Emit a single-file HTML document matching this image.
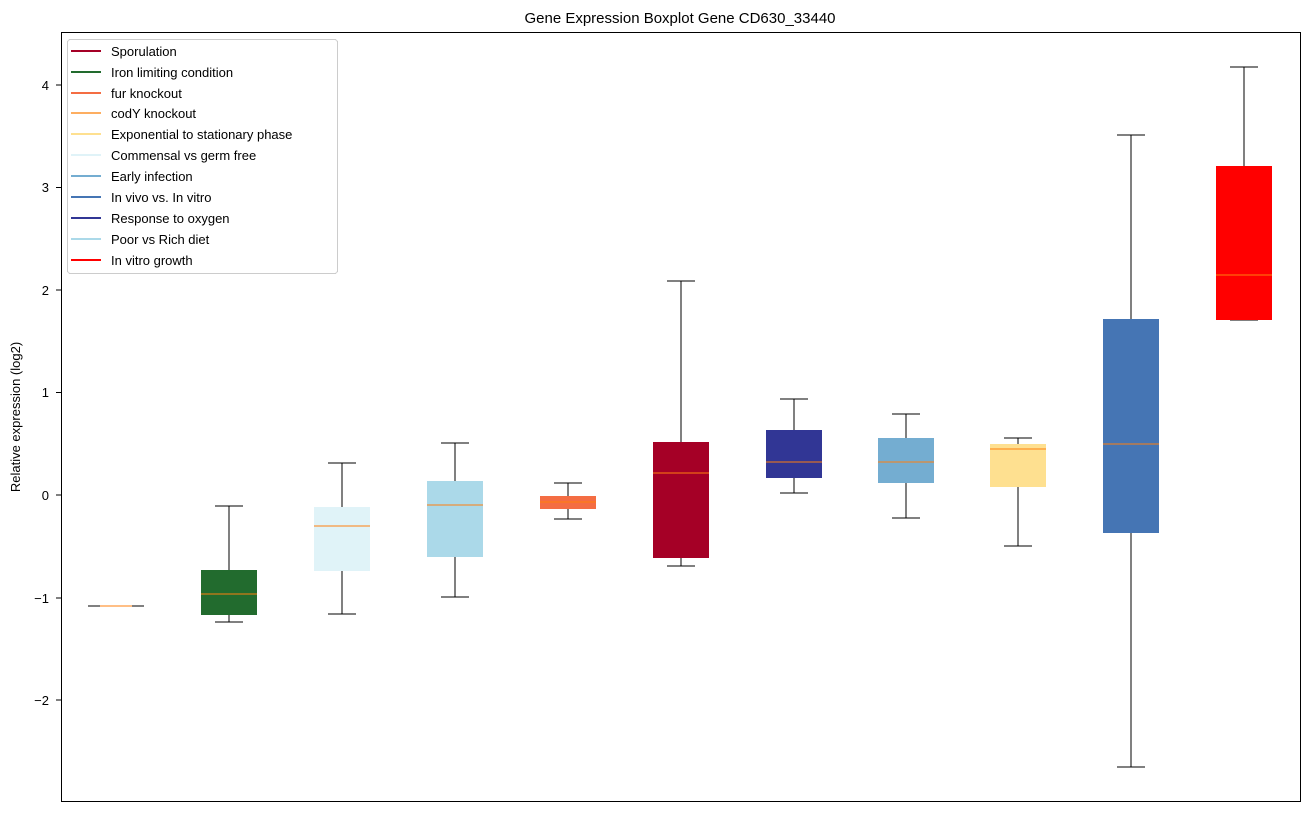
<!DOCTYPE html><html><head><style>body{margin:0;background:#fff}</style></head><body>
<svg width="1309" height="812" xmlns="http://www.w3.org/2000/svg" font-family="Liberation Sans, DejaVu Sans, sans-serif" shape-rendering="crispEdges">
<rect width="1309" height="812" fill="#fff"/>
<text x="680" y="23" font-size="15" text-anchor="middle">Gene Expression Boxplot Gene CD630_33440</text>
<g font-size="13" text-anchor="end" stroke="none">
<text x="49" y="90">4</text><text x="49" y="192">3</text><text x="49" y="295">2</text><text x="49" y="397">1</text><text x="49" y="500">0</text><text x="49" y="603">−1</text><text x="49" y="705">−2</text>
</g>
<g stroke="#000"><line x1="56" y1="85" x2="61" y2="85"/><line x1="56" y1="187.5" x2="61" y2="187.5"/><line x1="56" y1="290" x2="61" y2="290"/><line x1="56" y1="392.5" x2="61" y2="392.5"/><line x1="56" y1="495" x2="61" y2="495"/><line x1="56" y1="598" x2="61" y2="598"/><line x1="56" y1="700" x2="61" y2="700"/></g>
<text transform="translate(20,417) rotate(-90)" font-size="13" text-anchor="middle">Relative expression (log2)</text>
<g stroke="#000" stroke-width="1">
<line x1="88" y1="606" x2="144" y2="606"/>
<line x1="229" y1="506" x2="229" y2="622"/><line x1="215" y1="506" x2="243" y2="506"/><line x1="215" y1="622" x2="243" y2="622"/>
<line x1="342" y1="463" x2="342" y2="614"/><line x1="328" y1="463" x2="356" y2="463"/><line x1="328" y1="614" x2="356" y2="614"/>
<line x1="455" y1="443" x2="455" y2="597"/><line x1="441" y1="443" x2="469" y2="443"/><line x1="441" y1="597" x2="469" y2="597"/>
<line x1="568" y1="483" x2="568" y2="519"/><line x1="554" y1="483" x2="582" y2="483"/><line x1="554" y1="519" x2="582" y2="519"/>
<line x1="681" y1="281" x2="681" y2="566"/><line x1="667" y1="281" x2="695" y2="281"/><line x1="667" y1="566" x2="695" y2="566"/>
<line x1="794" y1="399" x2="794" y2="493"/><line x1="780" y1="399" x2="808" y2="399"/><line x1="780" y1="493" x2="808" y2="493"/>
<line x1="906" y1="414" x2="906" y2="518"/><line x1="892" y1="414" x2="920" y2="414"/><line x1="892" y1="518" x2="920" y2="518"/>
<line x1="1018" y1="438" x2="1018" y2="546"/><line x1="1004" y1="438" x2="1032" y2="438"/><line x1="1004" y1="546" x2="1032" y2="546"/>
<line x1="1131" y1="135" x2="1131" y2="767"/><line x1="1117" y1="135" x2="1145" y2="135"/><line x1="1117" y1="767" x2="1145" y2="767"/>
<line x1="1244" y1="67" x2="1244" y2="320"/><line x1="1230" y1="67" x2="1258" y2="67"/><line x1="1230" y1="320" x2="1258" y2="320"/>
</g>
<rect x="201" y="570" width="56" height="45" fill="#226b2e"/>
<rect x="314" y="507" width="56" height="64" fill="#e0f3f8"/>
<rect x="427" y="481" width="56" height="76" fill="#abd9e9"/>
<rect x="540" y="496" width="56" height="13" fill="#f46d43"/>
<rect x="653" y="442" width="56" height="116" fill="#a50026"/>
<rect x="766" y="430" width="56" height="48" fill="#313695"/>
<rect x="878" y="438" width="56" height="45" fill="#74add1"/>
<rect x="990" y="444" width="56" height="43" fill="#fee090"/>
<rect x="1103" y="319" width="56" height="214" fill="#4575b4"/>
<rect x="1216" y="166" width="56" height="154" fill="#ff0000"/>
<g stroke="#ff7f0e" stroke-width="1">
<line x1="100" y1="606" x2="132" y2="606"/><line x1="201" y1="594" x2="257" y2="594"/><line x1="314" y1="526" x2="370" y2="526"/><line x1="427" y1="505" x2="483" y2="505"/><line x1="540" y1="502" x2="596" y2="502"/><line x1="653" y1="473" x2="709" y2="473"/><line x1="766" y1="462" x2="822" y2="462"/><line x1="878" y1="462" x2="934" y2="462"/><line x1="990" y1="449" x2="1046" y2="449"/><line x1="1103" y1="444" x2="1159" y2="444"/><line x1="1216" y1="275" x2="1272" y2="275"/>
</g>
<rect x="61.5" y="32.5" width="1239" height="769" fill="none" stroke="#000"/>
<rect x="67.5" y="39.5" width="270" height="234" rx="3" fill="#fff" fill-opacity="0.8" stroke="#ccc"/>
<g stroke-width="2">
<line x1="71" y1="51" x2="101" y2="51" stroke="#a50026"/>
<line x1="71" y1="72" x2="101" y2="72" stroke="#226b2e"/>
<line x1="71" y1="93" x2="101" y2="93" stroke="#f46d43"/>
<line x1="71" y1="113" x2="101" y2="113" stroke="#fdae61"/>
<line x1="71" y1="134" x2="101" y2="134" stroke="#fee090"/>
<line x1="71" y1="155" x2="101" y2="155" stroke="#e0f3f8"/>
<line x1="71" y1="176" x2="101" y2="176" stroke="#74add1"/>
<line x1="71" y1="197" x2="101" y2="197" stroke="#4575b4"/>
<line x1="71" y1="218" x2="101" y2="218" stroke="#313695"/>
<line x1="71" y1="239" x2="101" y2="239" stroke="#abd9e9"/>
<line x1="71" y1="260" x2="101" y2="260" stroke="#ff0000"/>
</g>
<g font-size="13">
<text x="111" y="56">Sporulation</text><text x="111" y="77">Iron limiting condition</text><text x="111" y="98">fur knockout</text><text x="111" y="118">codY knockout</text><text x="111" y="139">Exponential to stationary phase</text><text x="111" y="160">Commensal vs germ free</text><text x="111" y="181">Early infection</text><text x="111" y="202">In vivo vs. In vitro</text><text x="111" y="223">Response to oxygen</text><text x="111" y="244">Poor vs Rich diet</text><text x="111" y="265">In vitro growth</text>
</g>
</svg></body></html>
